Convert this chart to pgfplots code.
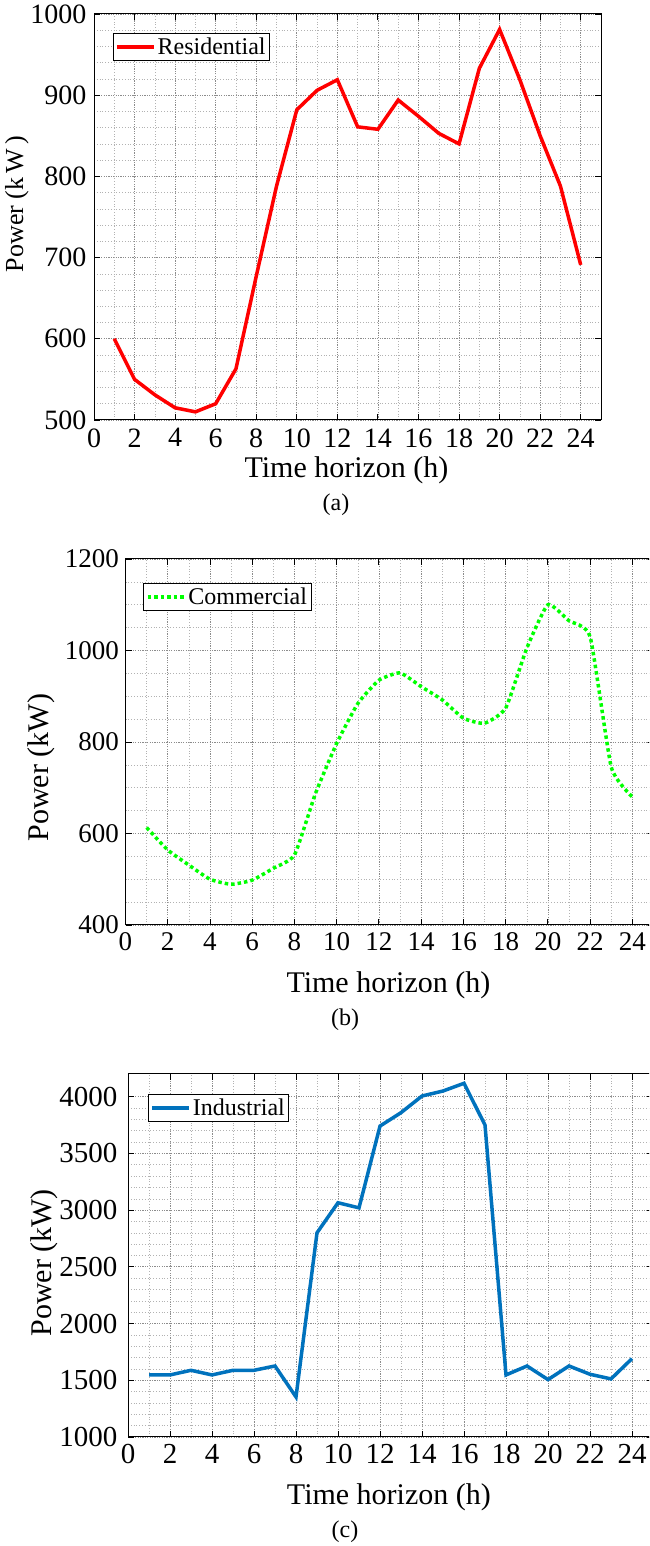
\documentclass[border=0pt]{standalone}
\usepackage{fontspec}
\setmainfont{Liberation Serif}
\usepackage{pgfplots}
\pgfplotsset{compat=1.18}
\definecolor{mblue}{rgb}{0,0.447,0.741}
\pgfplotsset{
  panel/.style={
    scale only axis,
    xmin=0, xmax=25,
    xtick={0,2,...,24},
    minor x tick num=1,
    grid=both,
    major grid style={black!45, dash pattern=on 1.2pt off 1.2pt, line width=0.7pt},
    minor grid style={black!30, dash pattern=on 0.8pt off 2pt, line width=0.5pt},
    tick align=inside,
    major tick length=6pt,
    minor tick length=0pt,
    axis line style={line width=1pt},
    every tick/.style={black, line width=0.9pt},
    /pgf/number format/assume math mode=true,
    /pgf/number format/1000 sep={},
    xticklabel={\fontsize{#1}{#1}\selectfont\pgfmathprintnumber[assume math mode=true,1000 sep={}]{\tick}},
    yticklabel={\fontsize{#1}{#1}\selectfont\pgfmathprintnumber[assume math mode=true,1000 sep={}]{\tick}},
    xticklabel style={yshift=-4pt},
    yticklabel style={xshift=-3pt},
    label style={font=\fontsize{30}{30}\selectfont},
    legend cell align=left,
    legend style={anchor=north west, draw=black, line width=0.8pt,
      font=\fontsize{24}{24}\selectfont, inner xsep=2pt, inner ysep=2.5pt},
    legend image code/.code={\draw[##1] (0pt,0pt) -- (37pt,0pt);},
  }
}
\begin{document}
\begin{tikzpicture}
\useasboundingbox (0,0) rectangle (649pt,1546pt);
\clip (0,0) rectangle (649pt,1546pt);
% (a)
\begin{axis}[panel=28, at={(94pt,1126pt)}, anchor=south west,
  width=507pt, height=406pt,
  ymin=500, ymax=1000, ytick={500,600,...,1000}, minor y tick num=4,
  xlabel={Time horizon (h)}, ylabel={Power (k\,W\,)},
  xticklabel style={yshift=-1pt},
  yticklabel style={xshift=-1pt},
  xlabel style={at={(axis description cs:0.498,-0.124)}, anchor=center},
  ylabel style={at={(axis description cs:-0.152,0.532)}, anchor=center, font=\fontsize{26}{26}\selectfont},
  legend style={at={(0.037,0.953)}}]
\addplot[red, line width=3.5pt] coordinates {
(1,600)(2,550)(3,531)(4,515)(5,510)(6,520)(7,563)(8,677)(9,788)(10,882)
(11,906)(12,919)(13,861)(14,858)(15,894)(16,874)(17,853)(18,840)(19,933)(20,981)
(21,919)(22,850)(23,788)(24,691)};
\addlegendentry{Residential}
\end{axis}
\node[font=\fontsize{24}{24}\selectfont] at (336pt,1041pt) {(a)};
% (b)
\begin{axis}[panel=27, at={(125.5pt,621pt)}, anchor=south west,
  width=528pt, height=366pt,
  ymin=400, ymax=1200, ytick={400,600,...,1200}, minor y tick num=3,
  xlabel={Time horizon (h)}, ylabel={Power (kW)},
  xlabel style={at={(axis description cs:0.498,-0.166)}, anchor=center},
  ylabel style={at={(axis description cs:-0.160,0.43)}, anchor=center},
  legend style={at={(0.034,0.934)}}]
\addplot[color={rgb,1:red,0;green,1;blue,0}, line width=3.5pt, dash pattern=on 3.5pt off 3pt, smooth, tension=0.3] coordinates {
(1,613)(2,564)(3,531)(4,500)(5,489)(6,498)(7,524)(8,553)(9,688)(10,797)
(11,884)(12,935)(13,951)(14,921)(15,892)(16,852)(17,841)(18,874)(19,1005)(20,1100)
(21,1065)(22,1030)(23,745)(24,680)};
\addlegendentry{Commercial}
\end{axis}
\node[font=\fontsize{24}{24}\selectfont] at (345pt,526pt) {(b)};
% (c)
\begin{axis}[panel=29, at={(128pt,109pt)}, anchor=south west,
  width=525pt, height=363pt,
  ymin=1000, ymax=4200, ytick={1000,1500,...,4000}, minor y tick num=4,
  yticklabel style={xshift=-4pt},
  xlabel={Time horizon (h)}, ylabel={Power (kW)},
  xlabel style={at={(axis description cs:0.497,-0.167)}, anchor=center},
  ylabel style={at={(axis description cs:-0.160,0.48)}, anchor=center},
  legend style={at={(0.038,0.945)}}]
\addplot[mblue, line width=3.5pt] coordinates {
(1,1547)(2,1547)(3,1588)(4,1547)(5,1588)(6,1588)(7,1626)(8,1353)(9,2800)(10,3065)
(11,3020)(12,3741)(13,3859)(14,4006)(15,4050)(16,4118)(17,3750)(18,1547)(19,1626)(20,1506)
(21,1626)(22,1553)(23,1512)(24,1691)};
\addlegendentry{Industrial}
\end{axis}
\node[font=\fontsize{24}{24}\selectfont] at (345pt,14pt) {(c)};
\end{tikzpicture}
\end{document}
